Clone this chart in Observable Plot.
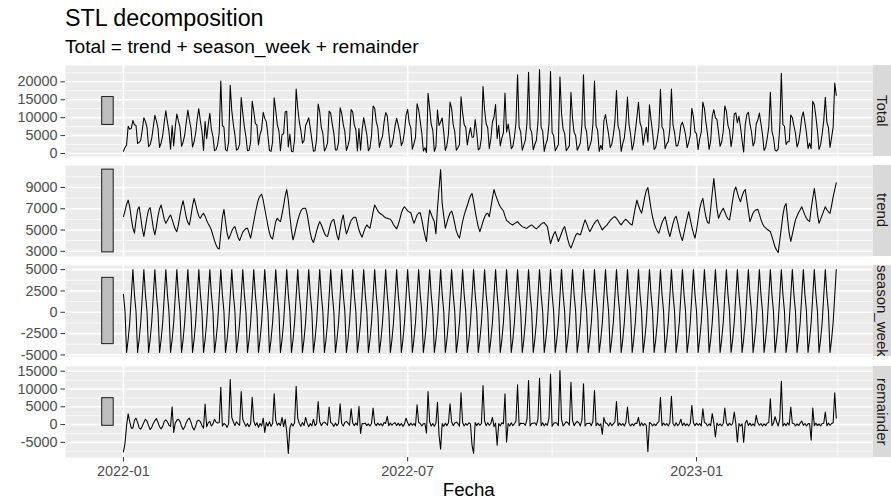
<!DOCTYPE html>
<html>
<head>
<meta charset="utf-8">
<script src="https://cdn.jsdelivr.net/npm/d3@7"></script>
<script src="https://cdn.jsdelivr.net/npm/@observablehq/plot@0.6"></script>
<style>
  html, body { margin: 0; padding: 0; background: #fff; }
  #chart { position: relative; width: 891px; height: 502px; overflow: hidden; background: #fff;
           font-family: "Liberation Sans", Arial, Helvetica, sans-serif; }
  .title { position: absolute; left: 65px; top: 7px; font-size: 23.3px; line-height: 23.3px; color: #000; white-space: nowrap; }
  .subtitle { position: absolute; left: 65px; top: 37px; font-size: 19.2px; line-height: 19.2px; color: #000; white-space: nowrap; }
  .strip { position: absolute; left: 873px; width: 18px; background: #D9D9D9; display: flex; align-items: center; justify-content: center; overflow: visible; }
  .strip span { writing-mode: vertical-rl; font-size: 15px; color: #1A1A1A; white-space: nowrap; line-height: 15px; }
  .xlabel { position: absolute; top: 481px; left: 0; width: 937.5px; text-align: center; font-size: 18.7px; line-height: 18.7px; color: #000; }
</style>
</head>
<body>
<div id="chart">
  <div class="title">STL decomposition</div>
  <div class="subtitle">Total = trend + season_week + remainder</div>
</div>
<script>
// ---- Data (daily, 2022-01-01 .. 2023-03-31; one line per week Sat..Fri) ----
const fechaInicio = "2022-01-01";
const fechaFin = "2023-03-31";

const trend = [
6250,6800,7400,7810,7200,6100,5200,
4700,5900,6900,7190,6200,5100,4390,
5300,6200,6900,7100,6200,5200,4550,
5300,6300,7000,7345,6700,6000,5640,
5900,6200,6410,6000,5500,5100,4850,
5500,6400,7200,7750,7000,6200,5700,
5480,6300,7300,7970,7400,6800,6300,
6100,6400,6570,6300,5900,5600,5320,
5000,4500,4000,3600,3300,3210,4700,
6200,6940,5800,4700,4150,4500,4900,
5200,5320,4800,4300,4015,4400,4800,
5000,5150,5170,4700,4240,5000,5800,
6600,7300,7900,8200,8370,7800,7000,
6200,5400,4700,4300,4150,5000,5800,
6100,5900,5790,6500,7300,8200,8810,
7800,6300,5000,4080,4600,5300,5900,
6400,6800,7000,7040,7040,6500,5600,
4700,4100,3830,4300,4900,5400,5790,
5500,5100,4700,4450,4390,5000,5600,
5900,6010,5300,4500,4080,5000,5900,
6410,5400,4640,5000,5500,5900,6100,
6200,6200,5600,5000,4600,4330,4800,
5200,5480,5300,5170,5900,6700,7345,
7100,6800,6600,6500,6400,6250,6150,
6100,6050,6010,5800,5500,5300,5110,
5500,6000,6600,7000,7190,7000,6800,
6700,6630,6100,5640,6000,6400,6600,
6630,6000,5200,4500,3920,5600,6880,
6500,6100,5790,4640,7040,8900,10675,
7500,6300,5170,5700,6200,6600,6790,
6300,5600,4900,4500,4240,5000,5800,
6400,6880,7300,7800,8200,8440,7700,
6800,6000,5300,4850,5300,5800,6200,
6500,6570,6250,7100,8000,8810,8300,
7900,7500,7190,7000,6790,6300,5880,
5800,5650,5550,5480,5600,5700,5790,
5600,5450,5320,5250,5200,5170,5300,
5400,5480,5350,5200,5110,5250,5400,
5550,5650,5700,5500,5320,4500,3710,
4200,4600,4850,4400,3920,4300,4700,
5100,5320,4700,4100,3600,3300,3700,
4100,4500,4700,4600,4550,5000,5500,
5950,5600,5200,4850,5100,5400,5650,
5850,5950,5600,5300,5010,5200,5350,
5480,5700,5900,6050,6200,6250,6100,
5900,5650,5480,5700,5900,6010,5850,
5700,5550,5480,6300,7100,7810,7300,
6900,6570,7300,8100,8700,9000,8000,
7000,6200,5640,5200,4900,4700,5200,
5700,6000,6250,5600,4900,4390,5000,
5600,6100,6300,5700,5000,4400,4015,
4700,5400,6100,6720,6000,5300,4700,
4240,5000,6000,7000,7600,7970,7000,
6200,5700,5640,7000,8500,9835,8400,
7000,6100,6500,6800,7040,6700,6300,
6050,5950,6800,7800,8700,9050,8500,
8000,7660,8200,8600,8810,7800,6800,
5790,6200,6600,6800,6900,6940,6500,
6000,5600,5320,5200,5050,4950,4850,
4400,3900,3400,3100,2900,4000,5200,
6400,7200,7500,6000,4700,3920,4600,
5300,5950,6300,6650,6900,7190,6800,
6400,6100,5900,5790,7000,8000,8900,
7800,6500,5640,6000,6400,6800,7190,
6900,6700,6570,7300,8120,8800,9430
];

const season_week = [
2100,100,-4700,-3200,-1200,1900,5000,
2100,100,-4700,-3200,-1200,1900,5000,
2100,100,-4700,-3200,-1200,1900,5000,
2100,100,-4700,-3200,-1200,1900,5000,
2100,100,-4700,-3200,-1200,1900,5000,
2100,100,-4700,-3200,-1200,1900,5000,
2100,100,-4700,-3200,-1200,1900,5000,
2100,100,-4700,-3200,-1200,1900,5000,
2100,100,-4700,-3200,-1200,1900,5000,
2100,100,-4700,-3200,-1200,1900,5000,
2100,100,-4700,-3200,-1200,1900,5000,
2100,100,-4700,-3200,-1200,1900,5000,
2100,100,-4700,-3200,-1200,1900,5000,
2100,100,-4700,-3200,-1200,1900,5000,
2100,100,-4700,-3200,-1200,1900,5000,
2100,100,-4700,-3200,-1200,1900,5000,
2100,100,-4700,-3200,-1200,1900,5000,
2100,100,-4700,-3200,-1200,1900,5000,
2100,100,-4700,-3200,-1200,1900,5000,
2100,100,-4700,-3200,-1200,1900,5000,
2100,100,-4700,-3200,-1200,1900,5000,
2100,100,-4700,-3200,-1200,1900,5000,
2100,100,-4700,-3200,-1200,1900,5000,
2100,100,-4700,-3200,-1200,1900,5000,
2100,100,-4700,-3200,-1200,1900,5000,
2100,100,-4700,-3200,-1200,1900,5000,
2100,100,-4700,-3200,-1200,1900,5000,
2100,100,-4700,-3200,-1200,1900,5000,
2100,100,-4700,-3200,-1200,1900,5000,
2100,100,-4700,-3200,-1200,1900,5000,
2100,100,-4700,-3200,-1200,1900,5000,
2100,100,-4700,-3200,-1200,1900,5000,
2100,100,-4700,-3200,-1200,1900,5000,
2100,100,-4700,-3200,-1200,1900,5000,
2100,100,-4700,-3200,-1200,1900,5000,
2100,100,-4700,-3200,-1200,1900,5000,
2100,100,-4700,-3200,-1200,1900,5000,
2100,100,-4700,-3200,-1200,1900,5000,
2100,100,-4700,-3200,-1200,1900,5000,
2100,100,-4700,-3200,-1200,1900,5000,
2100,100,-4700,-3200,-1200,1900,5000,
2100,100,-4700,-3200,-1200,1900,5000,
2100,100,-4700,-3200,-1200,1900,5000,
2100,100,-4700,-3200,-1200,1900,5000,
2100,100,-4700,-3200,-1200,1900,5000,
2100,100,-4700,-3200,-1200,1900,5000,
2100,100,-4700,-3200,-1200,1900,5000,
2100,100,-4700,-3200,-1200,1900,5000,
2100,100,-4700,-3200,-1200,1900,5000,
2100,100,-4700,-3200,-1200,1900,5000,
2100,100,-4700,-3200,-1200,1900,5000,
2100,100,-4700,-3200,-1200,1900,5000,
2100,100,-4700,-3200,-1200,1900,5000,
2100,100,-4700,-3200,-1200,1900,5000,
2100,100,-4700,-3200,-1200,1900,5000,
2100,100,-4700,-3200,-1200,1900,5000,
2100,100,-4700,-3200,-1200,1900,5000,
2100,100,-4700,-3200,-1200,1900,5000,
2100,100,-4700,-3200,-1200,1900,5000,
2100,100,-4700,-3200,-1200,1900,5000,
2100,100,-4700,-3200,-1200,1900,5000,
2100,100,-4700,-3200,-1200,1900,5000,
2100,100,-4700,-3200,-1200,1900,5000,
2100,100,-4700,-3200,-1200,1900,5000,
2100,100,-4700,-3200,-1200,1900,5000
];

const remainder = [
-7700,-5200,-300,3000,800,-1000,-1000,
1200,1800,600,-900,-1300,-400,600,
1500,1000,-300,-1400,-800,300,1100,
1700,600,-600,-1200,-500,900,1300,
800,-200,-500,5000,-2200,400,1200,
1500,900,-500,-1400,-700,600,1400,
1800,700,-800,-1500,-400,1000,1200,
800,-300,-1000,5800,-600,500,900,
-400,200,1500,700,400,600,10500,
-500,300,0,-800,200,12650,2000,
800,-300,800,200,-200,9300,1500,
400,-500,300,-600,200,7700,1000,
-300,500,-800,300,-400,1800,-2200,
600,-400,800,-500,300,8650,1200,
-200,400,-300,2000,-600,1500,-2000,
-8100,-1000,300,-400,500,10780,1800,
300,-500,600,-300,2000,400,-600,
300,-400,1500,-300,200,6500,800,
-300,400,700,300,-200,4920,600,
200,-500,400,-300,300,5870,300,
-400,600,900,400,-200,4470,500,
-300,400,-200,5170,-2500,300,200,
400,-300,200,-400,300,4650,300,
-300,400,-200,300,-400,600,300,
2320,-300,400,-200,300,500,-300,
400,-300,300,-500,200,1800,500,
-300,400,-200,300,-400,5590,600,
300,-400,200,300,-2400,9300,800,
-400,300,-500,400,6300,-3000,-6900,
300,-500,400,-300,500,5870,800,
-300,400,700,300,-500,8930,600,
-400,300,-200,500,200,-5780,-8100,
600,-300,400,-200,300,10970,1000,
-300,500,-200,300,2000,-600,400,
-5780,300,-400,500,200,8650,-4900,
300,-400,500,-300,200,1000,11170,
-300,400,300,300,-200,1500,12370,
-400,300,400,500,-200,1600,13000,
-300,500,-400,300,-200,1800,14250,
-500,300,600,400,-300,15170,1500,
-400,200,800,500,-200,11900,1200,
-300,400,900,500,-400,1300,11450,
-400,300,300,400,-300,1000,9580,
-300,400,-300,200,-2700,2000,500,
300,-400,500,-300,200,800,6500,
-300,400,-200,300,-400,600,4920,
300,-400,200,-300,400,300,2000,
-400,500,-300,300,-200,-7650,600,
300,-400,200,-300,400,800,7700,
-300,400,-200,300,-400,600,7970,
300,-400,500,-300,200,1500,-300,
400,-300,200,-400,300,5390,500,
-300,400,-200,300,-400,4470,600,
300,-400,200,-300,3070,500,-3480,
400,-300,200,-400,300,4650,500,
-300,400,-200,300,3530,400,-4900,
300,-400,200,-5000,400,1200,-300,
400,-300,200,-400,2600,500,-200,
300,-400,200,-300,400,600,7260,
-300,400,2200,800,-400,1500,12200,
-400,300,-300,500,-200,4920,400,
300,-400,200,-300,400,1000,-200,
300,-400,200,300,-4400,4650,-300,
400,-300,200,-400,300,400,3530,
-300,400,-200,300,500,8930,1800
];

const panelNames = ["Total", "trend", "season_week", "remainder"];
const ticksTotal = [0, 5000, 10000, 15000, 20000];
const ticksTrend = [3000, 5000, 7000, 9000];
const ticksSeason = [-5000, -2500, 0, 2500, 5000];
const ticksRemainder = [-5000, 0, 5000, 10000, 15000];
const xTickLabels = ["2022-01", "2022-07", "2023-01"];
const xMinorLabels = ["2022-04", "2022-10", "2023-04"];

// ---- Build ----
const parseDay = d3.utcParse("%Y-%m-%d");
const parseMonth = d3.utcParse("%Y-%m");
const start = parseDay(fechaInicio);
const end = d3.utcDay.offset(parseDay(fechaFin), 1);
const fechas = d3.utcDay.range(start, end);
const n = Math.min(fechas.length, trend.length, season_week.length, remainder.length);

const Total = trend.slice(0, n).map((t, i) => t + season_week[i] + remainder[i]);
const seriesValues = [Total, trend.slice(0, n), season_week.slice(0, n), remainder.slice(0, n)];
const seriesTicks = [ticksTotal, ticksTrend, ticksSeason, ticksRemainder];

const extents = seriesValues.map(v => d3.extent(v));
const minRange = d3.min(extents, e => e[1] - e[0]);

const first = fechas[0], last = fechas[n - 1];
const spanMs = last - first;
const barX1 = new Date(+first - 0.0298 * spanMs);
const barX2 = new Date(+first - 0.0137 * spanMs);
const xPad = 0.05 * (last - barX1);
const xDomain = [new Date(+barX1 - xPad), new Date(+last + xPad)];
const xMajor = xTickLabels.map(parseMonth);
const xMinor = xMinorLabels.map(parseMonth).filter(d => d >= xDomain[0] && d <= xDomain[1]);

const W = 891, ML = 65, MR = 18.5, H = 91;
const tops = [65, 165, 265, 366];
const chart = document.getElementById("chart");

seriesValues.forEach((vals, k) => {
  const [lo, hi] = extents[k];
  const pad = 0.05 * (hi - lo);
  const yDomain = [lo - pad, hi + pad];
  const ticks = seriesTicks[k];
  const step = ticks[1] - ticks[0];
  const minor = [ticks[0] - step / 2, ...ticks.map(t => t + step / 2)]
    .filter(v => v >= yDomain[0] && v <= yDomain[1]);
  const mid = (lo + hi) / 2;
  const bar = [{x1: barX1, x2: barX2, y1: mid - minRange / 2, y2: mid + minRange / 2}];
  const data = vals.map((v, i) => ({fecha: fechas[i], valor: v}));
  const isLast = k === seriesValues.length - 1;
  const MB = isLast ? 40 : 0;

  const svg = Plot.plot({
    width: W,
    height: H + MB,
    marginTop: 0,
    marginBottom: MB,
    marginLeft: ML,
    marginRight: MR,
    style: {background: "transparent", fontFamily: '"Liberation Sans", Arial, sans-serif', overflow: "visible"},
    x: {type: "utc", domain: xDomain, axis: null},
    y: {domain: yDomain, axis: null},
    marks: [
      Plot.frame({fill: "#EBEBEB", stroke: "none"}),
      Plot.gridY(minor, {stroke: "#FFFFFF", strokeOpacity: 1, strokeWidth: 0.8}),
      Plot.gridX(xMinor, {stroke: "#FFFFFF", strokeOpacity: 1, strokeWidth: 0.8}),
      Plot.gridY(ticks, {stroke: "#FFFFFF", strokeOpacity: 1, strokeWidth: 1.6}),
      Plot.gridX(xMajor, {stroke: "#FFFFFF", strokeOpacity: 1, strokeWidth: 1.6}),
      Plot.rect(bar, {x1: "x1", x2: "x2", y1: "y1", y2: "y2", fill: "#BEBEBE", stroke: "#1A1A1A", strokeWidth: 1}),
      Plot.line(data, {x: "fecha", y: "valor", stroke: "#000000", strokeWidth: 1.05}),
      Plot.axisY(ticks, {anchor: "left", tickSize: 4.5, tickPadding: 3.5, fontSize: 14.4,
        fill: "#4D4D4D", stroke: "#333333", tickFormat: d => String(d), label: null}),
      isLast ? Plot.axisX(xMajor, {anchor: "bottom", tickSize: 4.5, tickPadding: 3.5, fontSize: 14.4,
        fill: "#4D4D4D", stroke: "#333333", tickFormat: d3.utcFormat("%Y-%m"), label: null}) : null
    ]
  });
  svg.style.position = "absolute";
  svg.style.top = tops[k] + "px";
  svg.style.left = "0px";
  chart.appendChild(svg);

  const strip = document.createElement("div");
  strip.className = "strip";
  strip.style.top = tops[k] + "px";
  strip.style.height = H + "px";
  const sp = document.createElement("span");
  sp.textContent = panelNames[k];
  strip.appendChild(sp);
  chart.appendChild(strip);
});

const xl = document.createElement("div");
xl.className = "xlabel";
xl.textContent = "Fecha";
chart.appendChild(xl);
</script>
</body>
</html>
